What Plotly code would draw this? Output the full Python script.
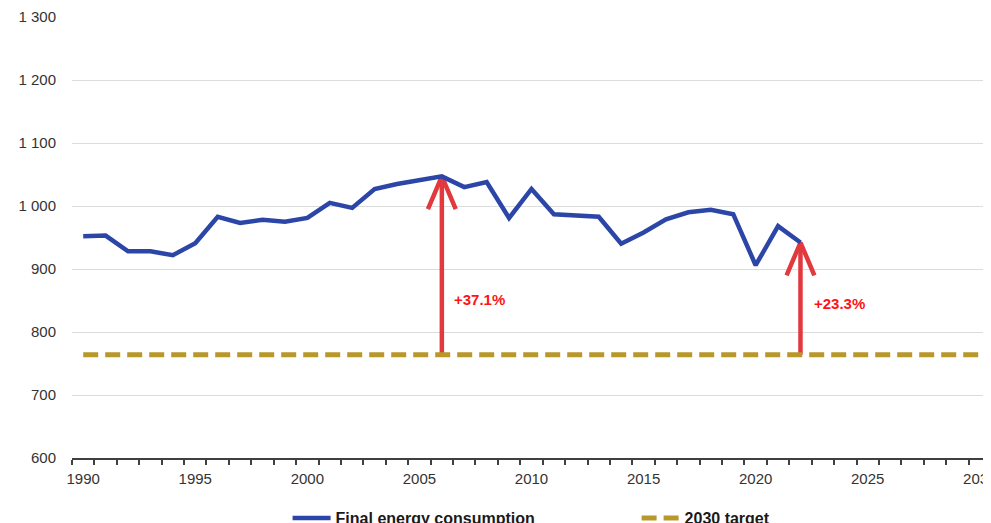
import plotly.graph_objects as go

years = list(range(1990, 2023))
consumption = [952, 953, 928, 928, 922, 941, 983, 973, 978, 975, 981, 1005, 997, 1027,
               1035, 1041, 1047, 1030, 1038, 981, 1027, 987, 985, 983, 940, 958, 979,
               990, 994, 987, 906, 968, 942]
target_years = [1990, 2030]
target_value = 764
arrow_years = [2006, 2022]
arrow_labels = ["+37.1%", "+23.3%"]
y_tickvals = [600, 700, 800, 900, 1000, 1100, 1200, 1300]
y_ticktext = ["600", "700", "800", "900", "1 000", "1 100", "1 200", "1 300"]
x_tickvals = [1990, 1995, 2000, 2005, 2010, 2015, 2020, 2025, 2030]

BLUE = "#2C46A8"
GOLD = "#B8972B"
ARROW = "#E2393F"
LABEL_RED = "#FF1414"
FONT = "Liberation Sans, Arial, sans-serif"

fig = go.Figure()

# arrows from target up to consumption
for yr in arrow_years:
    v = consumption[years.index(yr)]
    fig.add_trace(go.Scatter(x=[yr, yr], y=[target_value, v], mode="lines",
                             line=dict(color=ARROW, width=4.5), showlegend=False,
                             hoverinfo="skip"))
    fig.add_trace(go.Scatter(x=[yr - 0.62, yr, yr + 0.62], y=[v - 52, v, v - 52],
                             mode="lines", line=dict(color=ARROW, width=4.5),
                             showlegend=False, hoverinfo="skip"))

fig.add_trace(go.Scatter(x=years, y=consumption, mode="lines", name="Final energy consumption",
                         line=dict(color=BLUE, width=4.5)))
fig.add_trace(go.Scatter(x=target_years, y=[target_value] * len(target_years), mode="lines",
                         name="2030 target", line=dict(color=GOLD, width=5, dash="15px,7px")))

label_y = [852, 846]
label_shift = [10, 12]
for yr, txt, ly, sh in zip(arrow_years, arrow_labels, label_y, label_shift):
    fig.add_annotation(x=yr, y=ly, text="<b>" + txt + "</b>", showarrow=False,
                       xanchor="left", yanchor="middle", xshift=sh,
                       font=dict(family=FONT, size=15, color=LABEL_RED))

# page body has an 8px margin: figure starts at (8, 8)
fig.update_layout(
    width=983, height=515,
    margin=dict(l=64, r=0, t=9, b=65, autoexpand=False),
    paper_bgcolor="white", plot_bgcolor="white",
    font=dict(family=FONT, size=15, color="#333333"),
    showlegend=True,
    legend=dict(orientation="h", x=0.2346, xanchor="left", y=-0.136, yanchor="middle",
                font=dict(family=FONT, size=16, color="#1a1a1a", weight="bold"),
                itemwidth=38,
                entrywidth=296, entrywidthmode="pixels", bgcolor="rgba(0,0,0,0)"),
)
fig.update_xaxes(range=[1989.5, 2030.5], tickvals=x_tickvals, ticks="outside",
                 ticklen=6, tickcolor="rgba(0,0,0,0)", ticklabeloverflow="allow",
                 showgrid=False, zeroline=False,
                 showline=True, linecolor="#404040", linewidth=1.5,
                 minor=dict(ticks="outside", tick0=1989.5, dtick=1, ticklen=5,
                            tickcolor="#404040", tickwidth=1.5, showgrid=False),
                 tickfont=dict(size=15, color="#333333"))
fig.update_yaxes(range=[600, 1300], tickvals=y_tickvals, ticktext=y_ticktext,
                 showgrid=True, gridcolor="#DCDCDC", gridwidth=1, zeroline=False,
                 showline=False, ticks="outside", ticklen=12, tickcolor="rgba(0,0,0,0)",
                 tickfont=dict(size=15, color="#333333"))

fig.write_html("out.html")
